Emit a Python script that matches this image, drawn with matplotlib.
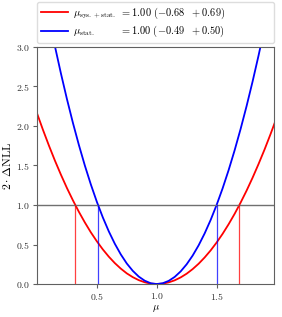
import numpy as np
import matplotlib
matplotlib.use("Agg")
import matplotlib.pyplot as plt

plt.rcParams["font.family"] = "serif"
plt.rcParams["font.serif"] = ["cmr10", "DejaVu Serif"]
plt.rcParams["mathtext.fontset"] = "cm"
plt.rcParams["axes.formatter.use_mathtext"] = True
plt.rcParams["font.size"] = 7

# scan points
mu_red = [0.00, 0.05, 0.10, 0.15, 0.20, 0.25, 0.30, 0.35, 0.40, 0.45, 0.50,
          0.55, 0.60, 0.65, 0.70, 0.75, 0.80, 0.85, 0.90, 0.95, 1.00,
          1.05, 1.10, 1.15, 1.20, 1.25, 1.30, 1.35, 1.40, 1.45, 1.50,
          1.55, 1.60, 1.65, 1.70, 1.75, 1.80, 1.85, 1.90, 1.95, 2.00]
nll_red = [2.163, 1.952, 1.752, 1.562, 1.384, 1.216, 1.060, 0.914, 0.779, 0.654, 0.541,
           0.438, 0.346, 0.265, 0.195, 0.135, 0.087, 0.049, 0.022, 0.005, 0.000,
           0.005, 0.021, 0.047, 0.084, 0.131, 0.189, 0.257, 0.336, 0.425, 0.525,
           0.635, 0.756, 0.887, 1.029, 1.181, 1.344, 1.518, 1.701, 1.896, 2.100]

mu_blue = [0.00, 0.05, 0.10, 0.15, 0.20, 0.25, 0.30, 0.35, 0.40, 0.45, 0.50,
           0.55, 0.60, 0.65, 0.70, 0.75, 0.80, 0.85, 0.90, 0.95, 1.00,
           1.05, 1.10, 1.15, 1.20, 1.25, 1.30, 1.35, 1.40, 1.45, 1.50,
           1.55, 1.60, 1.65, 1.70, 1.75, 1.80, 1.85, 1.90, 1.95, 2.00]
nll_blue = [4.165, 3.759, 3.374, 3.009, 2.666, 2.343, 2.041, 1.760, 1.499, 1.260, 1.041,
            0.843, 0.666, 0.510, 0.375, 0.260, 0.167, 0.094, 0.042, 0.010, 0.000,
            0.010, 0.040, 0.090, 0.160, 0.250, 0.360, 0.490, 0.640, 0.810, 1.000,
            1.210, 1.440, 1.690, 1.960, 2.250, 2.560, 2.890, 3.240, 3.610, 4.000]

best = 1.00
err_red = (-0.68, 0.69)
err_blue = (-0.49, 0.50)

fig = plt.figure(figsize=(2.82, 3.17), dpi=100)
ax = fig.add_axes([0.131, 0.104, 0.841, 0.748])

lab_red = r"$\mu_{\rm sys.+stat.}$ $= 1.00\ (-0.68\ \ +0.69)$"
lab_blue = r"$\mu_{\rm stat.}$" + "       " + r"$= 1.00\ (-0.49\ \ +0.50)$"
ax.plot(mu_red, nll_red, color="red", lw=1.3, label=lab_red)
ax.plot(mu_blue, nll_blue, color="blue", lw=1.3, label=lab_blue)

ax.axhline(1.0, color="#707070", lw=1.0)
for e in err_red:
    ax.axvline(best + e, ymax=1 / 3, color="red", lw=0.9, alpha=0.75)
for e in err_blue:
    ax.axvline(best + e, ymax=1 / 3, color="blue", lw=0.9, alpha=0.75)

ax.set_xlim(0, 1.98)
ax.set_ylim(0, 3)
ax.set_xticks([0.5, 1.0, 1.5])
ax.set_yticks(np.arange(0, 3.01, 0.5))
ax.set_xlabel(r"$\mu$", labelpad=1, fontsize=7.5)
ax.set_ylabel(r"$2\cdot\Delta\mathrm{NLL}$", labelpad=2, fontsize=8.5)
for s in ax.spines.values():
    s.set_color("#606060")
ax.tick_params(colors="#606060", labelcolor="#333333", length=3, pad=2)

ax.legend(loc="lower left", bbox_to_anchor=(0, 1.016, 1, 0.12), mode="expand",
          borderaxespad=0, fontsize=7.5, handlelength=2.6, handletextpad=0.5,
          framealpha=1, edgecolor="#dddddd", labelspacing=0.33, borderpad=0.35)

fig.savefig("out.png", dpi=100)
